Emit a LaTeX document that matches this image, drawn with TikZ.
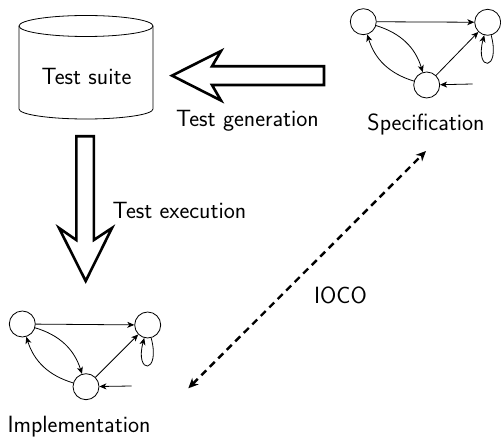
\documentclass[tikz,border=0pt]{standalone}
\usepackage{fontspec}
\usetikzlibrary{arrows.meta}
\begin{document}
\begin{tikzpicture}[x=1pt,y=1pt,
  lbl/.style={font=\sffamily\fontsize{23.5}{28}\selectfont, anchor=base, inner sep=0pt},
  st/.style={circle, draw, line width=0.8pt, minimum size=26pt, inner sep=0pt},
  tr/.style={line width=0.8pt, -{Stealth[length=7pt,width=6pt,inset=2pt]}},
  bigarrow/.style={draw, fill=white, line width=2.6pt, line join=miter},
  rel/.style={line width=2.4pt, dash pattern=on 7pt off 5pt, {Stealth[length=10pt,width=9pt,inset=3pt]}-{Stealth[length=10pt,width=9pt,inset=3pt]}}
]
\useasboundingbox (0,0) rectangle (501,-438);

% cylinder (test suite)
\draw[line width=0.8pt] (19,-26) -- (19,-109) arc[start angle=180, end angle=360, x radius=67, y radius=10] -- (153,-26);
\draw[line width=0.8pt] (86,-26) ellipse [x radius=67, y radius=10.5];
\node[lbl] (suite) at (86.5,-85) {Test suite};

% test generation arrow
\draw[bigarrow] (324,-66.3) -- (212,-66.3) -- (221,-51) -- (172,-75.6) -- (221,-100.5) -- (212,-85) -- (324,-85) -- cycle;
\node[lbl] (gen) at (247.5,-127) {Test generation};

% test execution arrow
\draw[bigarrow] (76.3,-136.3) -- (76.3,-240) -- (59,-228) -- (85.7,-281) -- (112,-228) -- (93.8,-240) -- (93.8,-136.3) -- cycle;
\node[lbl] (exe) at (179.5,-218.3) {Test execution};

% specification automaton
\node[st] (sa) at (363.3,-21.7) {};
\node[st] (sb) at (487.7,-22.3) {};
\node[st] (sc) at (426.7,-85) {};
\coordinate (sin) at (472.7,-84);
\draw[tr] (sa) -- (sb);
\draw[tr] (sa) to[bend left=28] (sc);
\draw[tr] (sc) to[bend left=28] (sa);
\draw[tr] (sc) -- (sb);
\draw[tr] (sb.-75) .. controls +(-75:38) and +(-105:38) .. (sb.-105);
\draw[tr] (sin) -- (sc);
\node[lbl] (spec) at (426,-131) {Specification};

% implementation automaton
\node[st] (ia) at (22.3,-324) {};
\node[st] (ib) at (147.7,-325) {};
\node[st] (ic) at (86,-386.7) {};
\coordinate (iin) at (131.7,-386);
\draw[tr] (ia) -- (ib);
\draw[tr] (ia) to[bend left=28] (ic);
\draw[tr] (ic) to[bend left=28] (ia);
\draw[tr] (ic) -- (ib);
\draw[tr] (ib.-75) .. controls +(-75:38) and +(-105:38) .. (ib.-105);
\draw[tr] (iin) -- (ic);
\node[lbl] (impl) at (79,-432) {Implementation};

% ioco relation
\coordinate (rtop) at (426,-151);
\coordinate (rbot) at (188.3,-388.3);
\draw[rel] (rbot) -- (rtop);
\node[lbl] (ioco) at (340.5,-303.3) {IOCO};
\end{tikzpicture}
\end{document}
